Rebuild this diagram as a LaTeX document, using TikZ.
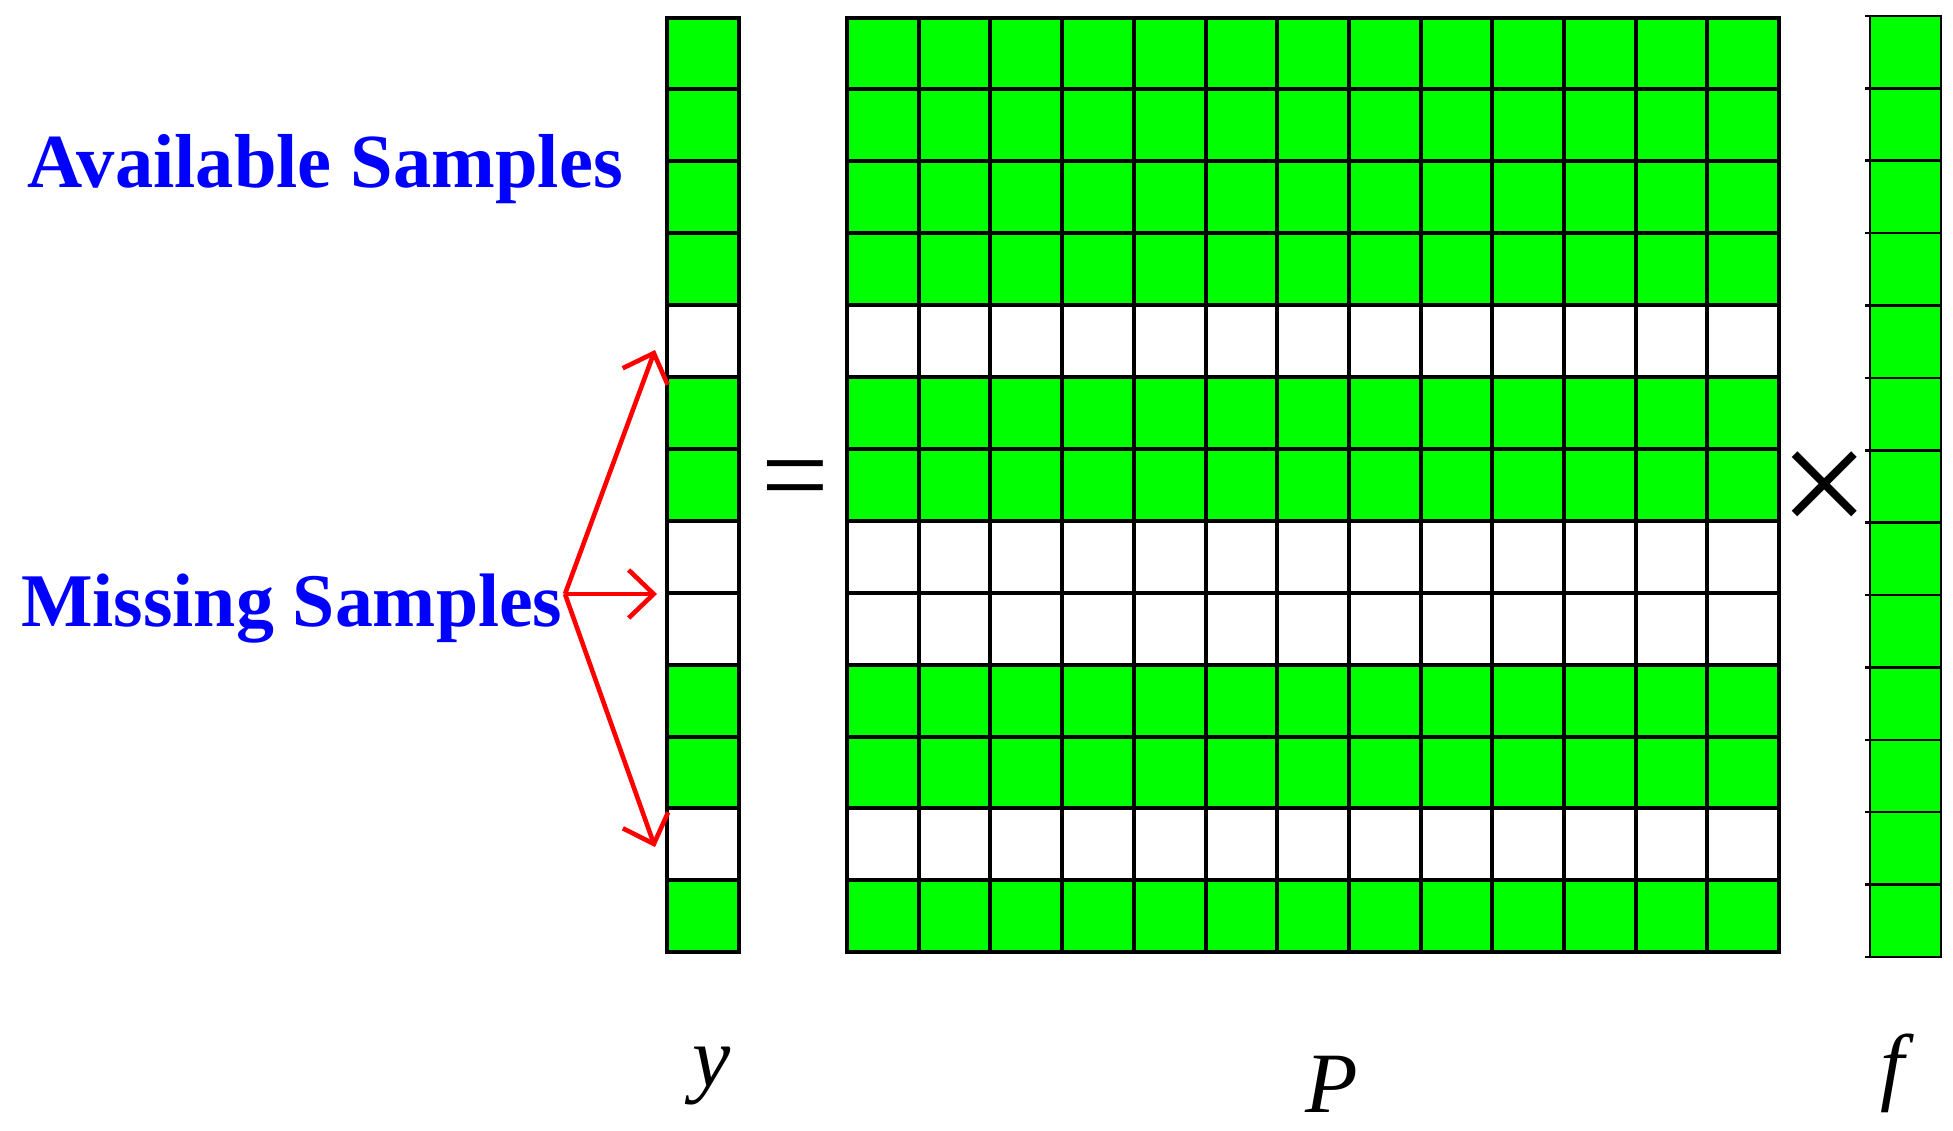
\documentclass[tikz,border=0pt]{standalone}
\usepackage{fontspec}
\setmainfont{Liberation Serif}
\usetikzlibrary{arrows.meta}
\definecolor{cellgreen}{RGB}{0,255,0}
\definecolor{labelblue}{RGB}{0,0,255}
\definecolor{arrowred}{RGB}{255,0,0}
\begin{document}
\begin{tikzpicture}[x=1pt,y=-1pt,
  cell/.style={draw=black,line width=4pt,inner sep=0pt,outer sep=0pt,minimum height=71.9pt},
  ycell/.style={cell,minimum width=72pt},
  pcell/.style={cell,minimum width=71.7pt},
  fcell/.style={draw=black,line width=2.6pt,fill=cellgreen,inner sep=0pt,outer sep=0pt,minimum width=71pt,minimum height=72.38pt},
  ftick/.style={draw=black,line width=2.6pt},
  bluelabel/.style={text=labelblue,font=\fontsize{76.5}{76.5}\selectfont\bfseries,inner sep=0pt,anchor=base west},
  varlabel/.style={font=\fontsize{86}{86}\selectfont\itshape,inner sep=0pt,anchor=base},
  redarrow/.style={draw=arrowred,line width=4.6pt,-{Straight Barb[length=25pt,width=48pt]}},
  opsym/.style={inner sep=0pt,anchor=base},
]
\useasboundingbox (0,0) rectangle (1953,1130);

\foreach \v [count=\i] in {1,1,1,1,0,1,1,0,0,1,1,0,1} {
  \pgfmathsetmacro\yc{17.5+(\i-0.5)*71.9}
  \ifnum\v=1 \def\fc{cellgreen}\else\def\fc{white}\fi
  \node[ycell,fill=\fc] (y\i) at (703,\yc) {};
  \foreach \j in {1,...,13}{
    \node[pcell,fill=\fc] (p\i-\j) at ({847+(\j-0.5)*71.7},\yc) {};
  }
}

\foreach \i in {1,...,13}{
  \pgfmathsetmacro\yc{16+(\i-0.5)*72.38}
  \node[fcell] (f\i) at (1905.5,\yc) {};
  \draw[ftick] (f\i.north west) -- ++(-5,0);
}
\draw[ftick] (f13.south west) -- ++(-5,0);

\node[bluelabel] (avail) at (27,187) {Available Samples};
\node[bluelabel,font=\fontsize{75.8}{75.8}\selectfont\bfseries] (miss) at (21,626) {Missing Samples};

\coordinate (v) at (565,594);
\coordinate (t1) at (655,350);
\coordinate (t2) at (657,594);
\coordinate (t3) at (655,847);
\draw[redarrow] (v) -- (t1);
\draw[redarrow] (v) -- (t2);
\draw[redarrow] (v) -- (t3);

\node[opsym,font=\fontsize{120}{120}\selectfont] (eq) at (795,515) {=};
\node[opsym,font=\fontsize{160}{160}\selectfont] (times) at (1825,537) {×};

\node[varlabel] (ly) at (712,1086) {y};
\node[varlabel] (lP) at (1332,1112) {P};
\node[varlabel] (lf) at (1892,1094) {f};
\end{tikzpicture}
\end{document}
